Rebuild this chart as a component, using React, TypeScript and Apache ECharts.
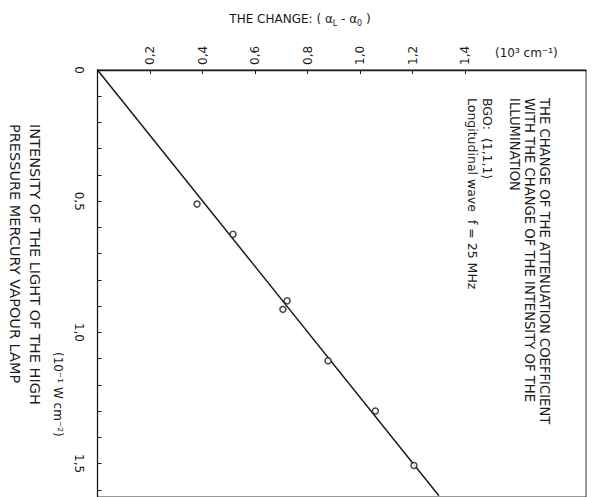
import React, { useEffect, useRef } from "react";
import * as echarts from "echarts";

// Measured points: [change (10^3 cm^-1), intensity (10^-1 W cm^-2)]
const pointChange = [0.379, 0.516, 0.722, 0.706, 0.878, 1.058, 1.205];
const pointIntensity = [0.511, 0.626, 0.879, 0.912, 1.108, 1.299, 1.507];
// Fitted straight line endpoints
const lineChange = [0, 1.3];
const lineIntensity = [0, 1.622];
// Axis ticks / labels
const changeTicks = [0.2, 0.4, 0.6, 0.8, 1.0, 1.2, 1.4];
const intensityTicks = [0, 0.1, 0.2, 0.3, 0.4, 0.5, 0.6, 0.7, 0.8, 0.9, 1.0, 1.1, 1.2, 1.3, 1.4, 1.5, 1.6];
const intensityLabels = [0, 0.5, 1.0, 1.5];

const FONT = "DejaVu Sans, sans-serif";
const INK = "#1a1a1a";

function fmt(v: number): string {
  if (v === 0) return "0";
  return v.toFixed(1).replace(".", ",");
}

export default function App() {
  const ref = useRef<HTMLDivElement>(null);
  useEffect(() => {
    document.body.style.margin = "0";
    const chart = echarts.init(ref.current!, null, { renderer: "svg" });
    const textLine = (text: string, x: number, y: number, size = 12) => ({
      type: "text",
      x,
      y,
      rotation: -Math.PI / 2,
      style: {
        text,
        fill: INK,
        font: `${size}px ${FONT}`,
        textAlign: "left",
        textVerticalAlign: "middle",
      },
    });
    chart.setOption({
      animation: false,
      backgroundColor: "#ffffff",
      grid: {
        left: 97.5,
        top: 70,
        right: 6,
        bottom: -3,
        show: true,
        borderColor: "#333",
        borderWidth: 1,
      },
      xAxis: {
        type: "value",
        position: "top",
        min: 0,
        max: 1.86,
        splitLine: { show: false },
        axisLine: { show: true, onZero: false, lineStyle: { color: INK, width: 1.3 } },
        axisTick: { show: true, inside: true, length: 4, customValues: changeTicks, lineStyle: { color: INK } },
        axisLabel: {
          show: true,
          rotate: -90,
          margin: 5,
          customValues: changeTicks,
          formatter: (v: number) => fmt(v),
          color: INK,
          fontFamily: FONT,
          fontSize: 12,
        },
      },
      yAxis: {
        type: "value",
        inverse: true,
        min: 0,
        max: 1.627,
        splitLine: { show: false },
        axisLine: { show: true, onZero: false, lineStyle: { color: INK, width: 1.3 } },
        axisTick: { show: true, inside: true, length: 4, customValues: intensityTicks, lineStyle: { color: INK } },
        axisLabel: {
          show: true,
          rotate: -90,
          margin: 13,
          customValues: intensityLabels,
          formatter: (v: number) => fmt(v),
          color: INK,
          fontFamily: FONT,
          fontSize: 12,
        },
      },
      series: [
        {
          type: "line",
          data: lineChange.map((c, i) => [c, lineIntensity[i]]),
          symbol: "none",
          lineStyle: { color: INK, width: 1.5 },
          z: 2,
        },
        {
          type: "scatter",
          data: pointChange.map((c, i) => [c, pointIntensity[i]]),
          symbol: "circle",
          symbolSize: 6,
          itemStyle: { color: "#ffffff", borderColor: INK, borderWidth: 1.5 },
          z: 3,
        },
      ],
      graphic: [
        {
          type: "text",
          x: 300,
          y: 19,
          style: {
            text: "THE CHANGE: ( α{sub|L} - α{sub|0} )",
            fill: INK,
            font: `12px ${FONT}`,
            textAlign: "center",
            textVerticalAlign: "middle",
            rich: {
              sub: { fontSize: 8, fill: INK, fontFamily: FONT, padding: [8, 0, 0, 0] },
            },
          },
        },
        {
          type: "text",
          x: 495,
          y: 53,
          style: {
            text: "(10³ cm⁻¹)",
            fill: INK,
            font: `12px ${FONT}`,
            textAlign: "left",
            textVerticalAlign: "middle",
          },
        },
        textLine("INTENSITY OF THE LIGHT OF THE HIGH", 35, 124, 14.5),
        textLine("PRESSURE MERCURY VAPOUR LAMP", 15, 124, 14.5),
        textLine("(10⁻¹ W cm⁻²)", 58, 352, 12),
        textLine("THE CHANGE OF THE ATTENUATION COEFFICIENT", 544, 98, 13.2),
        textLine("WITH THE CHANGE OF THE INTENSITY OF THE", 529, 98, 13.2),
        textLine("ILLUMINATION", 514, 98, 13.2),
        textLine("BGO:  ⟨1,1,1⟩", 487, 98, 12.5),
        textLine("Longitudinal wave  f = 25 MHz", 472, 98, 12.5),
      ],
    });
    return () => chart.dispose();
  }, []);
  return (
    <div
      ref={ref}
      style={{ position: "absolute", left: 0, top: 0, width: 592, height: 497 }}
    />
  );
}
